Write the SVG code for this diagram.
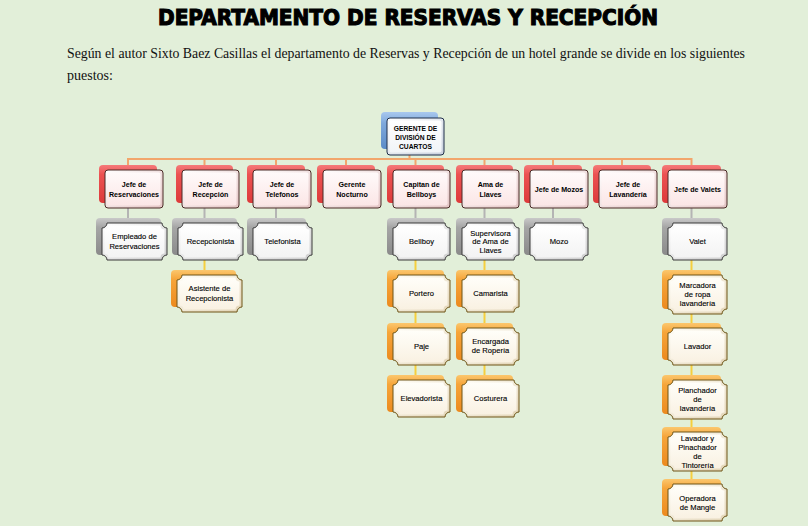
<svg xmlns="http://www.w3.org/2000/svg" xmlns:xlink="http://www.w3.org/1999/xlink" width="808" height="526" viewBox="0 0 808 526">
<defs>
<linearGradient id="gRed" x1="0" y1="0" x2="0" y2="1"><stop offset="0" stop-color="#F57A7A"/><stop offset="0.25" stop-color="#EC5252"/><stop offset="1" stop-color="#DD3A3A"/></linearGradient>
<linearGradient id="gGray" x1="0" y1="0" x2="0" y2="1"><stop offset="0" stop-color="#C9C9C9"/><stop offset="0.25" stop-color="#A6A6A6"/><stop offset="1" stop-color="#8A8A8A"/></linearGradient>
<linearGradient id="gOr" x1="0" y1="0" x2="0" y2="1"><stop offset="0" stop-color="#FBC76E"/><stop offset="0.25" stop-color="#F6A53A"/><stop offset="1" stop-color="#EC8A1E"/></linearGradient>
<linearGradient id="gBlue" x1="0" y1="0" x2="0" y2="1"><stop offset="0" stop-color="#A9C8EE"/><stop offset="0.3" stop-color="#7FA9DC"/><stop offset="1" stop-color="#5A8BC8"/></linearGradient>
<linearGradient id="bvRed" x1="0" y1="0" x2="1" y2="1"><stop offset="0" stop-color="#FFFFFF"/><stop offset="1" stop-color="#E3C4C4"/></linearGradient>
<linearGradient id="fcRed" x1="0" y1="0" x2="0" y2="1"><stop offset="0" stop-color="#FFFAFA"/><stop offset="1" stop-color="#FBE6E6"/></linearGradient>
<linearGradient id="bvGray" x1="0" y1="0" x2="1" y2="1"><stop offset="0" stop-color="#FFFFFF"/><stop offset="1" stop-color="#CDCDCD"/></linearGradient>
<linearGradient id="fcGray" x1="0" y1="0" x2="0" y2="1"><stop offset="0" stop-color="#FFFFFF"/><stop offset="1" stop-color="#F3F3F3"/></linearGradient>
<linearGradient id="bvOr" x1="0" y1="0" x2="1" y2="1"><stop offset="0" stop-color="#FFFEF8"/><stop offset="1" stop-color="#E2D4B6"/></linearGradient>
<linearGradient id="fcOr" x1="0" y1="0" x2="0" y2="1"><stop offset="0" stop-color="#FFFEF9"/><stop offset="1" stop-color="#F9F1E2"/></linearGradient>
<linearGradient id="bvBlue" x1="0" y1="0" x2="1" y2="1"><stop offset="0" stop-color="#FFFFFF"/><stop offset="1" stop-color="#C9D1DE"/></linearGradient>
<linearGradient id="fcBlue" x1="0" y1="0" x2="0" y2="1"><stop offset="0" stop-color="#FFFFFF"/><stop offset="1" stop-color="#F1F4F8"/></linearGradient>
<path id="oA" d="M5,0 H60 A5,5 0 0 0 65,5 V32 A5,5 0 0 0 60,37 H5 A5,5 0 0 0 0,32 V5 A5,5 0 0 0 5,0 Z"/>
<path id="iA" d="M6.5,2.5 H58.5 A4,4 0 0 0 62.5,6.5 V30.5 A4,4 0 0 0 58.5,34.5 H6.5 A4,4 0 0 0 2.5,30.5 V6.5 A4,4 0 0 0 6.5,2.5 Z"/>
<path id="oB" d="M5,0 H54 A5,5 0 0 0 59,5 V32 A5,5 0 0 0 54,37 H5 A5,5 0 0 0 0,32 V5 A5,5 0 0 0 5,0 Z"/>
<path id="iB" d="M6.5,2.5 H52.5 A4,4 0 0 0 56.5,6.5 V30.5 A4,4 0 0 0 52.5,34.5 H6.5 A4,4 0 0 0 2.5,30.5 V6.5 A4,4 0 0 0 6.5,2.5 Z"/>
<path id="oC" d="M5,0 H52 A5,5 0 0 0 57,5 V32 A5,5 0 0 0 52,37 H5 A5,5 0 0 0 0,32 V5 A5,5 0 0 0 5,0 Z"/>
<path id="iC" d="M6.5,2.5 H50.5 A4,4 0 0 0 54.5,6.5 V30.5 A4,4 0 0 0 50.5,34.5 H6.5 A4,4 0 0 0 2.5,30.5 V6.5 A4,4 0 0 0 6.5,2.5 Z"/>
<path id="oD" d="M5,0 H53 A5,5 0 0 0 58,5 V32 A5,5 0 0 0 53,37 H5 A5,5 0 0 0 0,32 V5 A5,5 0 0 0 5,0 Z"/>
<path id="iD" d="M6.5,2.5 H51.5 A4,4 0 0 0 55.5,6.5 V30.5 A4,4 0 0 0 51.5,34.5 H6.5 A4,4 0 0 0 2.5,30.5 V6.5 A4,4 0 0 0 6.5,2.5 Z"/>
<path id="oE" d="M5,0 H54 A5,5 0 0 0 59,5 V34 A5,5 0 0 0 54,39 H5 A5,5 0 0 0 0,34 V5 A5,5 0 0 0 5,0 Z"/>
<path id="iE" d="M6.5,2.5 H52.5 A4,4 0 0 0 56.5,6.5 V32.5 A4,4 0 0 0 52.5,36.5 H6.5 A4,4 0 0 0 2.5,32.5 V6.5 A4,4 0 0 0 6.5,2.5 Z"/>
</defs>
<style>
.bkR{fill:url(#gRed)}
.bkG{fill:url(#gGray)}
.bkO{fill:url(#gOr)}
.bkB{fill:url(#gBlue)}
.frR{fill:url(#bvRed);stroke:#4A2A26;stroke-width:1}
.fcR{fill:url(#fcRed)}
.frG{fill:url(#bvGray);stroke:#3A3A3A;stroke-width:1}
.fcG{fill:url(#fcGray)}
.frO{fill:url(#bvOr);stroke:#6E5516;stroke-width:1}
.fcO{fill:url(#fcOr)}
.frB{fill:url(#bvBlue);stroke:#1F2F4A;stroke-width:1}
.fcB{fill:url(#fcBlue)}
.t{font-family:"Liberation Sans",Arial,sans-serif;font-size:7.6px;fill:#000;stroke:#000;stroke-width:0.12;text-anchor:middle}
.tb{font-weight:bold;font-size:7.1px;stroke-width:0}
.cO{stroke:#F2A66C;stroke-width:2;fill:none}
.cG{stroke:#B4B4B4;stroke-width:2;fill:none}
.cY{stroke:#F5CF3E;stroke-width:2;fill:none}
</style>
<rect x="0" y="0" width="808" height="526" fill="#E2EFD9"/>
<text x="158" y="25" textLength="500" lengthAdjust="spacingAndGlyphs" font-family="'DejaVu Sans', 'Liberation Sans', sans-serif" font-weight="bold" font-size="22" fill="#000" stroke="#000" stroke-width="1.2">DEPARTAMENTO DE RESERVAS Y RECEPCIÓN</text>
<text x="67" y="58" textLength="678" lengthAdjust="spacingAndGlyphs" font-family="'Liberation Serif', 'Times New Roman', serif" font-size="14" fill="#111">Según el autor Sixto Baez Casillas el departamento de Reservas y Recepción de un hotel grande se divide en los siguientes</text>
<text x="67" y="80" font-family="'Liberation Serif', 'Times New Roman', serif" font-size="14" fill="#111">puestos:</text>

<g id="connectors">
<path class="cO" d="M409.5,154 V159 M127,159 H692.5 M128,159 V166 M204.5,159 V166 M276,159 V166 M346,159 V166 M415.5,159 V166 M484.5,159 V166 M553,159 V166 M622,159 V166 M691.5,159 V166"/>
<path class="cG" d="M128,207 V219 M204.5,207 V219 M276,207 V219 M415.5,207 V219 M484.5,207 V219 M553,207 V219 M691.5,207 V219"/>
<path class="cY" d="M204.5,259 V271 M415.5,259 V376 M484.5,259 V376 M691.5,259 V480"/>
</g>

<g id="n-gerente">
<rect class="bkB" x="381" y="112" width="57" height="37" rx="4"/>
<rect class="frB" x="387" y="118" width="57" height="37" rx="3"/>
<rect class="fcB" x="389.5" y="120.5" width="52" height="32" rx="2"/>
<text class="t tb" style="font-size:6.7px"><tspan x="415.5" y="130.5">GERENTE DE</tspan><tspan x="415.5" y="139.5">DIVISIÓN DE</tspan><tspan x="415.5" y="148.5">CUARTOS</tspan></text>
</g>

<g id="n-jefe-reservaciones">
<rect class="bkR" x="99" y="165" width="58" height="38" rx="4"/>
<rect class="frR" x="105" y="170" width="58" height="38" rx="3"/>
<rect class="fcR" x="107.5" y="172.5" width="53" height="33" rx="2"/>
<text class="t tb"><tspan x="134" y="186.5">Jefe de</tspan><tspan x="134" y="196.5">Reservaciones</tspan></text>
</g>
<g id="n-jefe-recepcion">
<rect class="bkR" x="176" y="165" width="57" height="38" rx="4"/>
<rect class="frR" x="182" y="170" width="57" height="38" rx="3"/>
<rect class="fcR" x="184.5" y="172.5" width="52" height="33" rx="2"/>
<text class="t tb"><tspan x="210.5" y="186.5">Jefe de</tspan><tspan x="210.5" y="196.5">Recepción</tspan></text>
</g>
<g id="n-jefe-telefonos">
<rect class="bkR" x="247" y="165" width="58" height="38" rx="4"/>
<rect class="frR" x="253" y="170" width="58" height="38" rx="3"/>
<rect class="fcR" x="255.5" y="172.5" width="53" height="33" rx="2"/>
<text class="t tb"><tspan x="282" y="186.5">Jefe de</tspan><tspan x="282" y="196.5">Telefonos</tspan></text>
</g>
<g id="n-gerente-nocturno">
<rect class="bkR" x="317" y="165" width="58" height="38" rx="4"/>
<rect class="frR" x="323" y="170" width="58" height="38" rx="3"/>
<rect class="fcR" x="325.5" y="172.5" width="53" height="33" rx="2"/>
<text class="t tb"><tspan x="352" y="186.5">Gerente</tspan><tspan x="352" y="196.5">Nocturno</tspan></text>
</g>
<g id="n-capitan-bellboys">
<rect class="bkR" x="387" y="165" width="57" height="38" rx="4"/>
<rect class="frR" x="393" y="170" width="57" height="38" rx="3"/>
<rect class="fcR" x="395.5" y="172.5" width="52" height="33" rx="2"/>
<text class="t tb"><tspan x="421.5" y="186.5">Capitan de</tspan><tspan x="421.5" y="196.5">Bellboys</tspan></text>
</g>
<g id="n-ama-llaves">
<rect class="bkR" x="456" y="165" width="57" height="38" rx="4"/>
<rect class="frR" x="462" y="170" width="57" height="38" rx="3"/>
<rect class="fcR" x="464.5" y="172.5" width="52" height="33" rx="2"/>
<text class="t tb"><tspan x="490.5" y="186.5">Ama de</tspan><tspan x="490.5" y="196.5">Llaves</tspan></text>
</g>
<g id="n-jefe-mozos">
<rect class="bkR" x="524" y="165" width="58" height="38" rx="4"/>
<rect class="frR" x="530" y="170" width="58" height="38" rx="3"/>
<rect class="fcR" x="532.5" y="172.5" width="53" height="33" rx="2"/>
<text class="t tb" x="559" y="191.5">Jefe de Mozos</text>
</g>
<g id="n-jefe-lavanderia">
<rect class="bkR" x="593" y="165" width="58" height="38" rx="4"/>
<rect class="frR" x="599" y="170" width="58" height="38" rx="3"/>
<rect class="fcR" x="601.5" y="172.5" width="53" height="33" rx="2"/>
<text class="t tb"><tspan x="628" y="186.5">Jefe de</tspan><tspan x="628" y="196.5">Lavandería</tspan></text>
</g>
<g id="n-jefe-valets">
<rect class="bkR" x="662" y="165" width="59" height="38" rx="4"/>
<rect class="frR" x="668" y="170" width="59" height="38" rx="3"/>
<rect class="fcR" x="670.5" y="172.5" width="54" height="33" rx="2"/>
<text class="t tb" x="697.5" y="191.5">Jefe de Valets</text>
</g>

<g id="n-empleado-reservaciones">
<rect class="bkG" x="96" y="218" width="65" height="37" rx="4"/>
<use href="#oA" x="102" y="223" class="frG"/><use href="#iA" x="102" y="223" class="fcG"/>
<text class="t"><tspan x="134.5" y="239">Empleado de</tspan><tspan x="134.5" y="249">Reservaciones</tspan></text>
</g>
<g id="n-recepcionista">
<rect class="bkG" x="172" y="218" width="65" height="37" rx="4"/>
<use href="#oA" x="178" y="223" class="frG"/><use href="#iA" x="178" y="223" class="fcG"/>
<text class="t" x="210.5" y="244">Recepcionista</text>
</g>
<g id="n-telefonista">
<rect class="bkG" x="247" y="218" width="59" height="37" rx="4"/>
<use href="#oB" x="253" y="223" class="frG"/><use href="#iB" x="253" y="223" class="fcG"/>
<text class="t" x="282.5" y="244">Telefonista</text>
</g>
<g id="n-bellboy">
<rect class="bkG" x="387" y="218" width="57" height="37" rx="4"/>
<use href="#oC" x="393" y="223" class="frG"/><use href="#iC" x="393" y="223" class="fcG"/>
<text class="t" x="421.5" y="244">Bellboy</text>
</g>
<g id="n-supervisora">
<rect class="bkG" x="456" y="218" width="57" height="37" rx="4"/>
<use href="#oC" x="462" y="223" class="frG"/><use href="#iC" x="462" y="223" class="fcG"/>
<text class="t"><tspan x="490.5" y="235.5">Supervisora</tspan><tspan x="490.5" y="244.3">de Ama de</tspan><tspan x="490.5" y="253.1">Llaves</tspan></text>
</g>
<g id="n-mozo">
<rect class="bkG" x="524" y="218" width="58" height="37" rx="4"/>
<use href="#oD" x="530" y="223" class="frG"/><use href="#iD" x="530" y="223" class="fcG"/>
<text class="t" x="559" y="244">Mozo</text>
</g>
<g id="n-valet">
<rect class="bkG" x="662" y="218" width="59" height="37" rx="4"/>
<use href="#oB" x="668" y="223" class="frG"/><use href="#iB" x="668" y="223" class="fcG"/>
<text class="t" x="697.5" y="244">Valet</text>
</g>

<g id="n-asistente-recepcionista">
<rect class="bkO" x="171" y="270" width="65" height="37" rx="4"/>
<use href="#oA" x="177" y="275" class="frO"/><use href="#iA" x="177" y="275" class="fcO"/>
<text class="t"><tspan x="209.5" y="291">Asistente de</tspan><tspan x="209.5" y="301">Recepcionista</tspan></text>
</g>
<g id="n-portero">
<rect class="bkO" x="387" y="270" width="57" height="37" rx="4"/>
<use href="#oC" x="393" y="275" class="frO"/><use href="#iC" x="393" y="275" class="fcO"/>
<text class="t" x="421.5" y="296">Portero</text>
</g>
<g id="n-paje">
<rect class="bkO" x="387" y="323" width="57" height="37" rx="4"/>
<use href="#oC" x="393" y="328" class="frO"/><use href="#iC" x="393" y="328" class="fcO"/>
<text class="t" x="421.5" y="349">Paje</text>
</g>
<g id="n-elevadorista">
<rect class="bkO" x="387" y="375" width="57" height="37" rx="4"/>
<use href="#oC" x="393" y="380" class="frO"/><use href="#iC" x="393" y="380" class="fcO"/>
<text class="t" x="421.5" y="401">Elevadorista</text>
</g>
<g id="n-camarista">
<rect class="bkO" x="456" y="270" width="57" height="37" rx="4"/>
<use href="#oC" x="462" y="275" class="frO"/><use href="#iC" x="462" y="275" class="fcO"/>
<text class="t" x="490.5" y="296">Camarista</text>
</g>
<g id="n-encargada-roperia">
<rect class="bkO" x="456" y="323" width="57" height="37" rx="4"/>
<use href="#oC" x="462" y="328" class="frO"/><use href="#iC" x="462" y="328" class="fcO"/>
<text class="t"><tspan x="490.5" y="343.5">Encargada</tspan><tspan x="490.5" y="353">de Ropería</tspan></text>
</g>
<g id="n-costurera">
<rect class="bkO" x="456" y="375" width="57" height="37" rx="4"/>
<use href="#oC" x="462" y="380" class="frO"/><use href="#iC" x="462" y="380" class="fcO"/>
<text class="t" x="490.5" y="401">Costurera</text>
</g>
<g id="n-marcadora">
<rect class="bkO" x="662" y="270" width="59" height="39" rx="4"/>
<use href="#oE" x="668" y="275" class="frO"/><use href="#iE" x="668" y="275" class="fcO"/>
<text class="t"><tspan x="697.5" y="287.5">Marcadora</tspan><tspan x="697.5" y="296.5">de ropa</tspan><tspan x="697.5" y="305.5">lavandería</tspan></text>
</g>
<g id="n-lavador">
<rect class="bkO" x="662" y="323" width="59" height="37" rx="4"/>
<use href="#oB" x="668" y="328" class="frO"/><use href="#iB" x="668" y="328" class="fcO"/>
<text class="t" x="697.5" y="349">Lavador</text>
</g>
<g id="n-planchador">
<rect class="bkO" x="662" y="375" width="59" height="39" rx="4"/>
<use href="#oE" x="668" y="380" class="frO"/><use href="#iE" x="668" y="380" class="fcO"/>
<text class="t"><tspan x="697.5" y="392.5">Planchador</tspan><tspan x="697.5" y="401.5">de</tspan><tspan x="697.5" y="410.5">lavandería</tspan></text>
</g>
<g id="n-lavador-planchador">
<rect class="bkO" x="662" y="427" width="59" height="39" rx="4"/>
<use href="#oE" x="668" y="432" class="frO"/><use href="#iE" x="668" y="432" class="fcO"/>
<text class="t"><tspan x="697.5" y="440.5">Lavador y</tspan><tspan x="697.5" y="449.5">Pinachador</tspan><tspan x="697.5" y="458.5">de</tspan><tspan x="697.5" y="467.5">Tintorería</tspan></text>
</g>
<g id="n-operadora">
<rect class="bkO" x="662" y="479" width="59" height="37" rx="4"/>
<use href="#oB" x="668" y="484" class="frO"/><use href="#iB" x="668" y="484" class="fcO"/>
<text class="t"><tspan x="697.5" y="500.5">Operadora</tspan><tspan x="697.5" y="510">de Mangle</tspan></text>
</g>
</svg>
